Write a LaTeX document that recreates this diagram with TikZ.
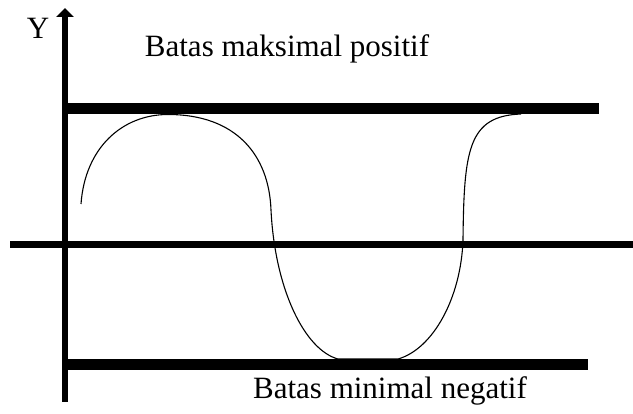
\documentclass[tikz,border=0pt]{standalone}
\usepackage{fontspec}
\setmainfont{Liberation Serif}
\usetikzlibrary{arrows.meta}
\begin{document}
\begin{tikzpicture}[x=1pt, y=-1pt, every node/.style={font=\fontsize{31}{36}\selectfont}]
        \useasboundingbox (0,0) rectangle (633,414);

        \coordinate (ybot) at (65,402);
        \coordinate (ytop) at (65,8);
        \coordinate (xleft) at (10,244.5);
        \coordinate (xright) at (633,244.5);

        \begin{scope}[line width=11pt]
        \draw (62,109) -- (599,109);
        \draw (62,364.5) -- (588,364.5);
        \end{scope}

        \draw [line width=7pt] (xleft) -- (xright);
        \draw [line width=6pt, -{Triangle[length=9pt, width=17pt]}] (ybot) -- (ytop);

        \node (ylbl) at (38,28) {Y};
        \node (maxlbl) at (287,49) {Batas maksimal positif};
        \node (minlbl) at (390,391) {Batas minimal negatif};

        \draw [line width=1.1pt] (81,204) .. controls (85,148) and (122,114.5) .. (168,114.5)
              .. controls (236,114.5) and (269,155) .. (271,210)
              .. controls (275,290) and (305,350) .. (338,359)
              -- (398,359)
              .. controls (433,349) and (461,298) .. (463,240)
              .. controls (464,150) and (468,116) .. (521,114);

        \end{tikzpicture}
\end{document}
